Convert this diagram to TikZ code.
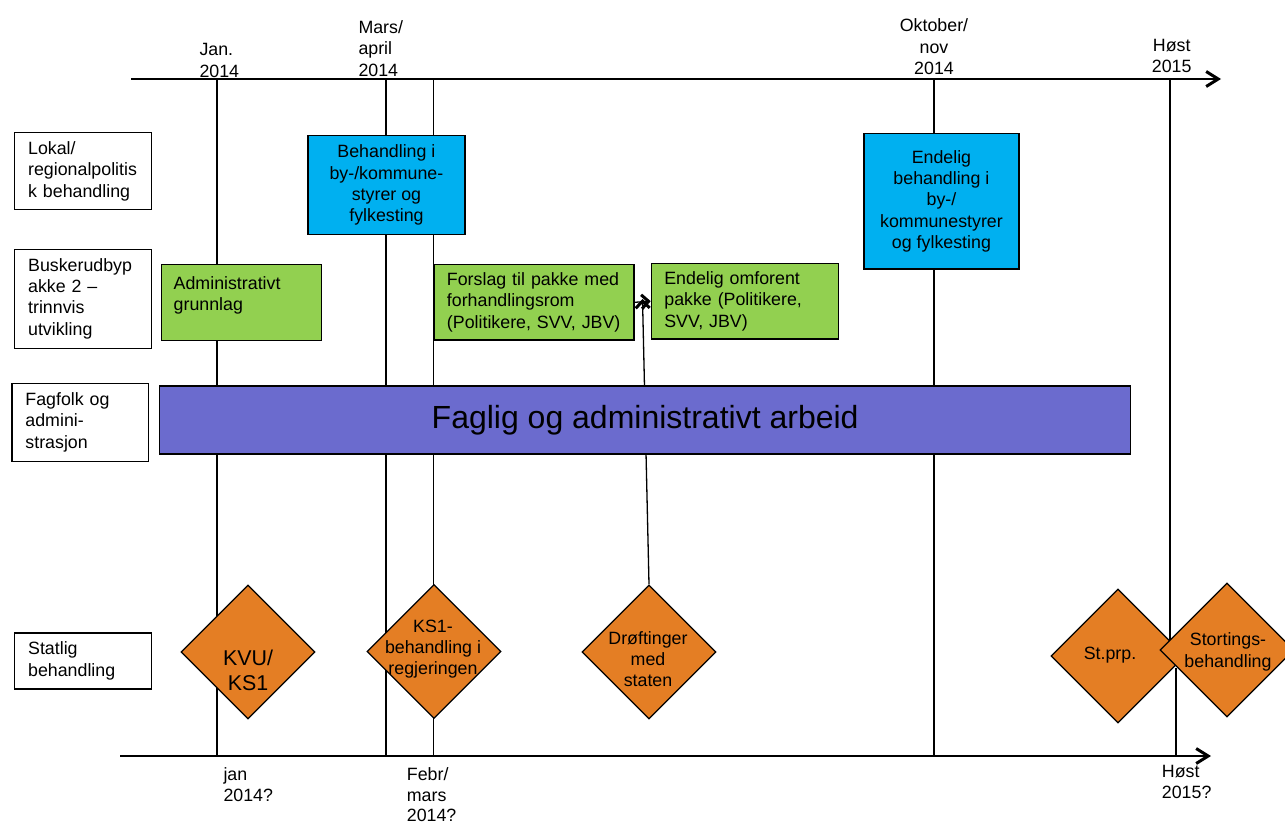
\documentclass[tikz,border=0pt]{standalone}
\usepackage{fontspec}
\setmainfont{Liberation Sans}
\usetikzlibrary{shapes.geometric,arrows.meta}
\definecolor{boxblue}{RGB}{0,176,240}
\definecolor{boxgreen}{RGB}{146,208,80}
\definecolor{barpurple}{RGB}{107,107,206}
\definecolor{dorange}{RGB}{228,126,36}
\tikzset{
  txt/.style={font=\fontsize{17.8}{21.3}\selectfont, inner sep=0pt},
  axisline/.style={line width=2pt, -{Straight Barb[length=12pt,width=15pt,line width=3pt]}},
  vline/.style={line width=1.5pt},
  sarrow/.style={line width=1.3pt, -{Straight Barb[length=7pt,width=14pt,line width=3pt]}},
  lbox/.style={txt, draw, line width=1.3pt, fill=white, anchor=north west, align=left, inner xsep=13.5pt},
  bbox/.style={txt, draw, line width=1.3pt, fill=boxblue, anchor=north west, align=center},
  gbox/.style={txt, draw, line width=1.3pt, fill=boxgreen, anchor=north west, align=left, inner xsep=13pt},
  dia/.style={diamond, aspect=1, draw, line width=1.3pt, fill=dorange, inner sep=0pt, minimum width=134pt, minimum height=134pt},
  dtxt/.style={txt, align=center},
  datel/.style={txt, anchor=north west, align=left},
  datec/.style={txt, anchor=north, align=center},
}
\begin{document}
\begin{tikzpicture}[x=1pt,y=-1pt]
\useasboundingbox (0,0) rectangle (1285,825);
% time marks
\coordinate (t1) at (217,79);   \coordinate (b1) at (217,756);
\coordinate (t2) at (386,79);   \coordinate (b2) at (386,756);
\coordinate (t3) at (433.5,79); \coordinate (b3) at (433.5,756);
\coordinate (t4) at (934,79);   \coordinate (b4) at (934,756);
\coordinate (t5) at (1170,79);  \coordinate (b5) at (1170,655);
\coordinate (t6) at (1176,668); \coordinate (b6) at (1176,756);
\draw[vline] (t1) -- (b1);
\draw[vline] (t2) -- (b2);
\draw[vline] (t3) -- (b3);
\draw[vline] (t4) -- (b4);
\draw[vline] (t5) -- (b5);
\draw[vline] (t6) -- (b6);
% axes
\coordinate (ta0) at (131,79);  \coordinate (ta1) at (1221,79);
\coordinate (ba0) at (120,756); \coordinate (ba1) at (1211,756);
\draw[axisline] (ta0) -- (ta1);
\draw[axisline] (ba0) -- (ba1);
% diamonds (behind boxes for arrow)
\node[dia] (kvu) at (248,652) {};
\node[dia] (ks1) at (434,651.5) {};
\node[dia] (drof) at (649,652) {};
\coordinate (arrtip) at (642.5,299);
\draw[sarrow] (drof.north) -- (arrtip);
\node[dia] (stprp) at (1118,656) {};
\node[dia] (stort) at (1227,650) {};
\node[dtxt, font=\fontsize{21.4}{25}\selectfont] (kvu-t) at (248,670) {KVU/\\KS1};
\node[dtxt] (ks1-t) at (433,649) {KS1-\\behandling i\\regjeringen};
\node[dtxt] (drof-t) at (648,659) {Drøftinger\\med\\staten};
\node[dtxt] (stprp-t) at (1110,655) {St.prp.};
\node[dtxt] (stort-t) at (1228,652) {Stortings-\\behandling};
% left labels
\node[lbox, text width=110pt, minimum height=77pt] (lokal) at (14,132) {Lokal/\\regionalpolitis\\k behandling};
\node[lbox, text width=110pt, minimum height=99pt] (busk) at (14,248.5) {Buskerudbyp\\akke 2 –\\trinnvis\\utvikling};
\node[lbox, text width=109.5pt, minimum height=78pt] (fag) at (11.3,382.7) {Fagfolk og\\admini-\\strasjon};
\node[lbox, text width=110pt, minimum height=56pt] (stat) at (14,632.3) {Statlig\\behandling};
% blue boxes
\node[bbox, minimum width=157pt, minimum height=99pt] (beh) at (307.3,135) {Behandling i\\by-/kommune-\\styrer og\\fylkesting};
\node[bbox, minimum width=155pt, minimum height=135.6pt] (endb) at (863.3,132.7) {Endelig\\behandling i\\by-/\\kommunestyrer\\og fylkesting};
% green boxes
\node[gbox, minimum width=160pt, minimum height=76pt] (admin) at (161,264) {};
\node[datel] (admin-t) at (173.5,276.5) {Administrativt\\grunnlag};
\node[gbox, text width=174pt, minimum height=75.3pt] (forslag) at (433.3,264) {Forslag til pakke med\\forhandlingsrom\\(Politikere, SVV, JBV)};
\node[gbox, text width=161pt, minimum height=75.6pt] (omf) at (650.7,262.7) {Endelig omforent\\pakke (Politikere,\\SVV, JBV)};
\draw[sarrow] (forslag.east) -- (omf.west);
% purple bar
\node[draw, line width=1.3pt, fill=barpurple, anchor=north west, minimum width=971pt, minimum height=68pt, inner sep=0pt, font=\fontsize{32}{36}\selectfont] (bar) at (159,385.3) {Faglig og administrativt arbeid};
% date labels top
\node[datel] (d1) at (199.3,43.5) {Jan.\\2014};
\node[datel] (d2) at (358.3,20.3) {Mars/\\april\\2014};
\node[datec] (d3) at (934,18.7) {Oktober/\\nov\\2014};
\node[datec] (d4) at (1171.7,38.7) {Høst\\2015};
% date labels bottom
\node[datel] (e1) at (223.3,767.5) {jan\\2014?};
\node[datel, font=\fontsize{17.8}{20.6}\selectfont] (e2) at (406.7,767.3) {Febr/\\mars\\2014?};
\node[datel] (e3) at (1161.7,765) {Høst\\2015?};
\end{tikzpicture}
\end{document}
